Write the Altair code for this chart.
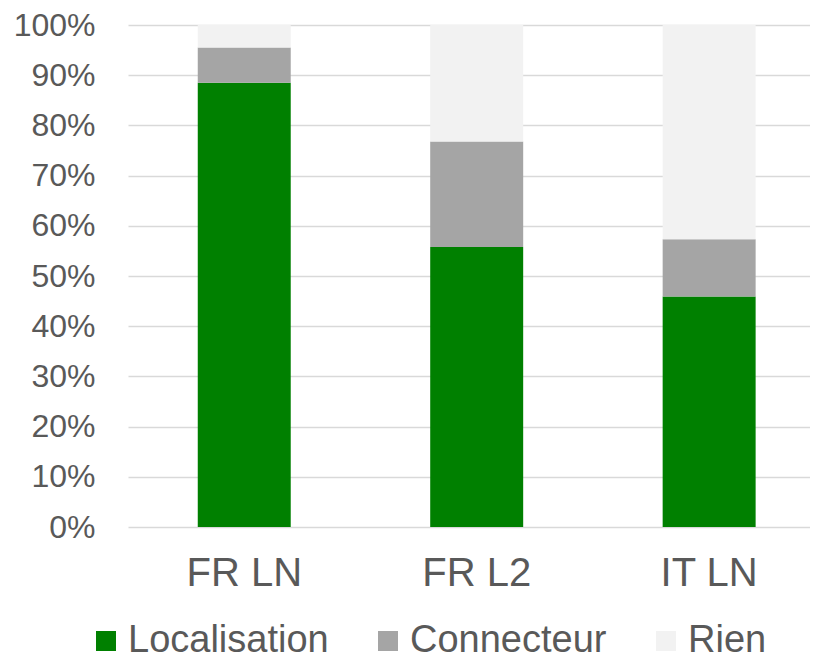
import altair as alt
import pandas as pd

categories = ["FR LN", "FR L2", "IT LN"]
series = ["Localisation", "Connecteur", "Rien"]
localisation = [88.5, 55.8, 45.9]
connecteur = [7.0, 21.0, 11.4]
rien = [4.5, 23.2, 42.7]
colors = ["#008000", "#a5a5a5", "#f2f2f2"]
y_ticks = [0, 10, 20, 30, 40, 50, 60, 70, 80, 90, 100]

rows = []
for i, c in enumerate(categories):
    for j, (s, vals) in enumerate(zip(series, [localisation, connecteur, rien])):
        rows.append({"cat": c, "serie": s, "val": vals[i], "ord": j})
df = pd.DataFrame(rows)

FONT = "Liberation Sans"
TXT = "#595959"

chart = alt.Chart(df).mark_bar().encode(
    x=alt.X("cat:N", sort=categories,
            scale=alt.Scale(paddingInner=0.6, paddingOuter=0.267, align=0.562),
            axis=alt.Axis(title=None, labelAngle=0, labelFontSize=40, labelFont=FONT,
                          labelColor=TXT, domain=False, ticks=False, labelPadding=26)),
    y=alt.Y("val:Q", stack="zero",
            scale=alt.Scale(domain=[0, 100], nice=False),
            axis=alt.Axis(title=None, values=y_ticks, labelExpr="datum.value + '%'",
                          labelFontSize=32, labelFont=FONT, labelColor=TXT,
                          domain=False, ticks=False, labelPadding=33,
                          gridColor="#d9d9d9", gridWidth=1.5,
                          minExtent=120, maxExtent=120)),
    color=alt.Color("serie:N", sort=series,
                    scale=alt.Scale(domain=series, range=colors),
                    legend=alt.Legend(title=None, orient="none", direction="horizontal",
                                      legendX=-41, legendY=597,
                                      symbolType="square", symbolSize=400,
                                      symbolStrokeWidth=0, labelLimit=0,
                                      labelFontSize=38, labelFont=FONT, labelColor=TXT,
                                      labelOffset=3, columnPadding=40, padding=0)),
    order=alt.Order("ord:Q", sort="ascending"),
).properties(
    width=682, height=502,
    autosize=alt.AutoSizeParams(type="none"),
    padding={"left": 120, "top": 17, "right": 0, "bottom": 140},
).configure_view(stroke=None)

chart.save("out.html", embed_options={"renderer": "svg", "actions": False})
